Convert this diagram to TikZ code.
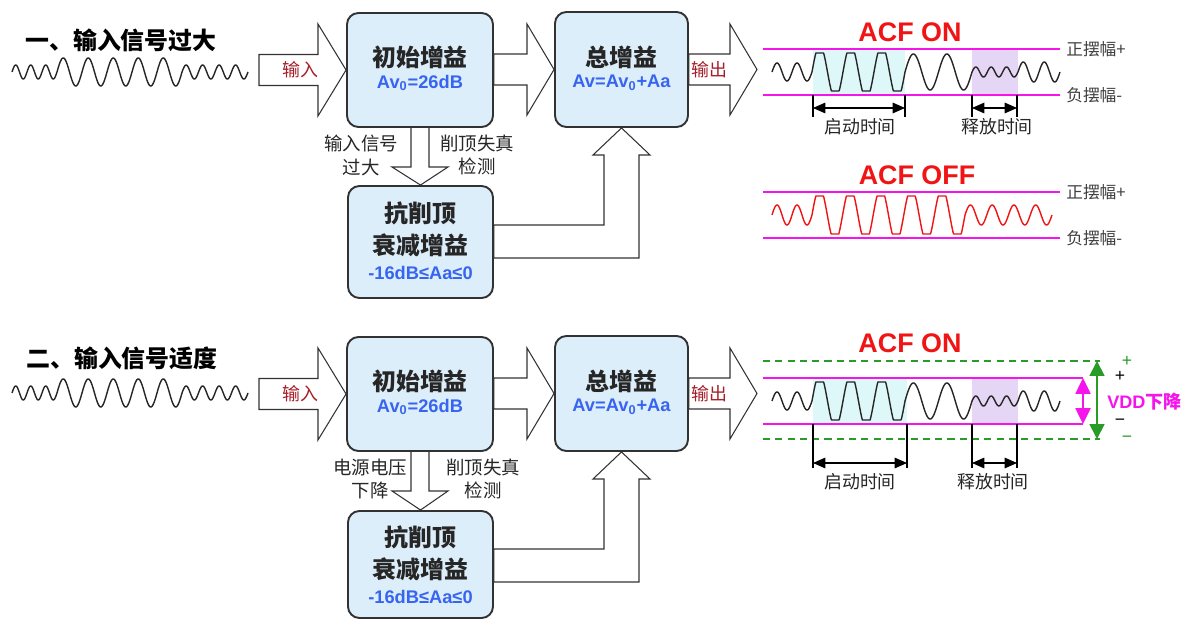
\documentclass[tikz,border=0pt]{standalone}
\usepackage{fontspec}
\setmainfont{Liberation Sans}
\newfontfamily\cjk{Noto Sans CJK SC}
\usetikzlibrary{arrows.meta,calc}
\definecolor{boxfill}{RGB}{221,238,251}
\definecolor{boxline}{RGB}{50,50,50}
\definecolor{valblue}{RGB}{55,100,240}
\definecolor{darkred}{RGB}{165,30,40}
\definecolor{acfred}{RGB}{240,20,20}
\definecolor{mag}{RGB}{245,20,235}
\definecolor{vgreen}{RGB}{40,155,40}
\definecolor{cyanfill}{RGB}{222,247,248}
\definecolor{purfill}{RGB}{229,214,245}
\pgfdeclarelayer{back}
\pgfdeclarelayer{paper}
\pgfsetlayers{paper,back,main}

\newcommand\gainrow[7]{%
% #1 suffix, #2 y offset, #3 left label, #4 left label x, #5 right label x, #6 box3 centre y, #7 box3 height
\begin{scope}[shift={(0,#2)}]
  \node[gainbox, minimum width=2.92cm, minimum height=2.28cm] (ini#1) at (420,70) {};
  \node[gainbox, minimum width=2.66cm, minimum height=2.30cm] (tot#1) at (621.5,69.5) {};
  \node[gainbox, minimum width=2.90cm, minimum height=#7] (anti#1) at (420.5,#6) {};
  \node[maintext] (ini#1t) at (420,57) {初始增益};
  \node[valtext] (ini#1v) at (420,83) {Av\textsubscript{0}=26dB};
  \node[maintext] (tot#1t) at (621.5,57) {总增益};
  \node[valtext] (tot#1v) at (621.5,83) {Av=Av\textsubscript{0}+Aa};
  \node[maintext] (anti#1a) at (420.5,213) {抗削顶};
  \node[maintext] (anti#1b) at (420.5,245) {衰减增益};
  \node[valtext] (anti#1v) at (420.5,273) {-16dB≤Aa≤0};
  \node[lbltext] (ll#1) at (#4,155) {#3};
  \node[lbltext] (rl#1) at (#5,155) {削顶失真\\检测};
  \coordinate (out#1) at (757,69.5);
  \begin{pgfonlayer}{back}
    \draw[blockarrow] (259,54.5) -- (318,54.5) -- (318,24) -- (ini#1.west) -- (318,116) -- (318,85.5) -- (259,85.5) -- cycle;
    \draw[blockarrow] (ini#1.east |- 0,54) -- (527,54) -- (527,24) -- (tot#1.west) -- (527,115) -- (527,85) -- (ini#1.east |- 0,85) -- cycle;
    \draw[blockarrow] (tot#1.east |- 0,54) -- (730,54) -- (730,24) -- (out#1) -- (730,115) -- (730,85) -- (tot#1.east |- 0,85) -- cycle;
    \draw[blockarrow] (411,120) -- (411,167) -- (392,167) -- (anti#1.north) -- (448,167) -- (429,167) -- (429,120) -- cycle;
    \draw[blockarrow] (anti#1.east |- 0,225) -- (604,225) -- (604,155) -- (593,155) -- (tot#1.south) -- (650,155) -- (639,155) -- (639,258) -- (anti#1.east |- 0,258) -- cycle;
  \end{pgfonlayer}
  \node[arrowlbl] (inl#1) at (300,70) {输入};
  \node[arrowlbl] (outl#1) at (709,70) {输出};
\end{scope}}

\begin{document}
\begin{tikzpicture}[x=0.02cm,y=-0.02cm,
  gainbox/.style={draw=boxline, line width=1.1pt, fill=boxfill, rounded corners=6.5pt, inner sep=0pt},
  blockarrow/.style={draw=black!80, line width=0.6pt, fill=white, line join=miter},
  maintext/.style={font=\cjk\bfseries\fontsize{13.6}{16}\selectfont, text=black!85, inner sep=0pt},
  valtext/.style={font=\bfseries\fontsize{10.4}{12}\selectfont, text=valblue, inner sep=0pt},
  lbltext/.style={font=\cjk\fontsize{10.5}{13.6}\selectfont, text=black!85, inner sep=0pt, align=center},
  arrowlbl/.style={font=\cjk\fontsize{10.2}{12}\selectfont, text=darkred, inner sep=0pt},
  titletext/.style={font=\cjk\bfseries\fontsize{13.6}{16}\selectfont, inner sep=0pt, anchor=west},
  acf/.style={font=\bfseries\fontsize{15.3}{18}\selectfont, text=acfred, inner sep=0pt},
  swing/.style={font=\cjk\fontsize{9.5}{11}\selectfont, text=black!75, anchor=west, inner sep=0pt},
  timetext/.style={font=\cjk\fontsize{10.2}{12}\selectfont, text=black!85, inner sep=0pt},
  wave/.style={line width=0.8pt, black!85, line join=round},
  limitline/.style={mag, line width=1.2pt},
  dimline/.style={line width=0.6pt, {Triangle[length=7pt,width=6pt]}-{Triangle[length=7pt,width=6pt]}},
  tickline/.style={line width=0.6pt},
  pm/.style={font=\fontsize{10}{12}\selectfont, inner sep=0pt},
  declare function={
    inw(\t) = (\t<57) ? 7*sin((\t-12)/15*360) : ((\t<182) ? 14*sin((\t-57)/25*360) : 7*sin((\t-182)/16.5*360));
    onw(\t) = (\t<812) ? 9*sin((\t-772)/20*360) : ((\t<905) ? max(-19,min(19,27*sin((\t-812)/31*360))) : ((\t<972) ? 18*sin((\t-905)/33.5*360) : ((\t<1018) ? 5*sin((\t-972)/15.333*360) : 10*sin((\t-1018)/21*360))));
    offw(\t) = (\t<812) ? 10*sin((\t-772)/20*360) : ((\t<965) ? max(-19,min(19,27*sin((\t-812)/30.6*360))) : 10*sin((\t-965)/21.75*360));
  }]
\useasboundingbox (0,0) rectangle (1191,621);
\begin{pgfonlayer}{paper}
\fill[white] (0,0) rectangle (1191,621);
\end{pgfonlayer}

% titles and input waves
\node[titletext] (t1) at (25,40) {一、输入信号过大};
\node[titletext] (t2) at (26,358) {二、输入信号适度};
\draw[wave] plot[domain=12:248, samples=400] (\x, {72 - inw(\x)});
\draw[wave] plot[domain=12:248, samples=400] (\x, {393 - inw(\x)});

% block diagrams
\gainrow{1}{0}{输入信号\\过大}{361}{477}{242}{2.24cm}
\gainrow{2}{324}{电源电压\\下降}{370}{483}{240.5}{2.14cm}

% ---- section 1: ACF ON
\fill[cyanfill] (813,49) rectangle (905,95);
\fill[purfill] (972,49) rectangle (1018,95);
\draw[limitline] (763,49) -- (1060,49);
\draw[limitline] (763,95) -- (1060,95);
\node[acf] (on1) at (910,32) {ACF ON};
\node[swing] (sp1) at (1066,49) {正摆幅+};
\node[swing] (sn1) at (1066,95) {负摆幅-};
\draw[wave] plot[domain=772:1060, samples=600] (\x, {72 - onw(\x)});
\draw[tickline] (813,95) -- (813,117) (905,95) -- (905,117) (972,95) -- (972,117) (1017,95) -- (1017,117);
\coordinate (a1l) at (813,108); \coordinate (a1r) at (905,108);
\coordinate (r1l) at (972,108); \coordinate (r1r) at (1017,108);
\draw[dimline] (a1l) -- (a1r);
\draw[dimline] (r1l) -- (r1r);
\node[timetext] (at1) at (860,127) {启动时间};
\node[timetext] (rt1) at (997,127) {释放时间};

% ---- ACF OFF
\draw[limitline] (763,192) -- (1060,192);
\draw[limitline] (763,238) -- (1060,238);
\node[acf] (off) at (917,175) {ACF OFF};
\node[swing] (sp2) at (1066,192) {正摆幅+};
\node[swing] (sn2) at (1066,238) {负摆幅-};
\draw[wave, acfred] plot[domain=772:1052, samples=600] (\x, {215 - offw(\x)});

% ---- section 2: ACF ON with VDD drop
\fill[cyanfill] (813,378) rectangle (907,424);
\fill[purfill] (972,378) rectangle (1018,424);
\draw[vgreen, line width=0.9pt, dash pattern=on 4pt off 3pt] (763,361) -- (1100,361);
\draw[vgreen, line width=0.9pt, dash pattern=on 4pt off 3pt] (763,439) -- (1100,439);
\draw[limitline] (763,378) -- (1083,378);
\draw[limitline] (763,424) -- (1083,424);
\coordinate (mt) at (1083,378); \coordinate (mb) at (1083,424);
\draw[mag, line width=1.2pt, {Triangle[length=9pt,width=8.5pt]}-{Triangle[length=9pt,width=8.5pt]}] (mt) -- (mb);
\coordinate (gt) at (1097,361); \coordinate (gb) at (1097,439);
\draw[vgreen, line width=1pt, {Triangle[length=8.5pt,width=8.5pt]}-{Triangle[length=8.5pt,width=8.5pt]}] (gt) -- (gb);
\node[acf] (on2) at (910,343) {ACF ON};
\node[pm, text=vgreen] (gp) at (1127,361) {+};
\node[pm] (bp) at (1120,376) {+};
\node[pm] (bm) at (1120,422) {−};
\node[pm, text=vgreen] (gm) at (1127,439) {−};
\node[font=\bfseries\fontsize{10.3}{12}\selectfont, text=mag, anchor=west, inner sep=0pt] (vdd) at (1107,402) {VDD{\cjk 下降}};
\draw[wave] plot[domain=772:1060, samples=600] (\x, {401 - onw(\x)});
\draw[tickline] (813,424) -- (813,468) (907,424) -- (907,468) (972,424) -- (972,468) (1017,424) -- (1017,468);
\coordinate (a2l) at (813,463); \coordinate (a2r) at (907,463);
\coordinate (r2l) at (972,463); \coordinate (r2r) at (1017,463);
\draw[dimline] (a2l) -- (a2r);
\draw[dimline] (r2l) -- (r2r);
\node[timetext] (at2) at (860,482) {启动时间};
\node[timetext] (rt2) at (993,482) {释放时间};
\end{tikzpicture}
\end{document}
